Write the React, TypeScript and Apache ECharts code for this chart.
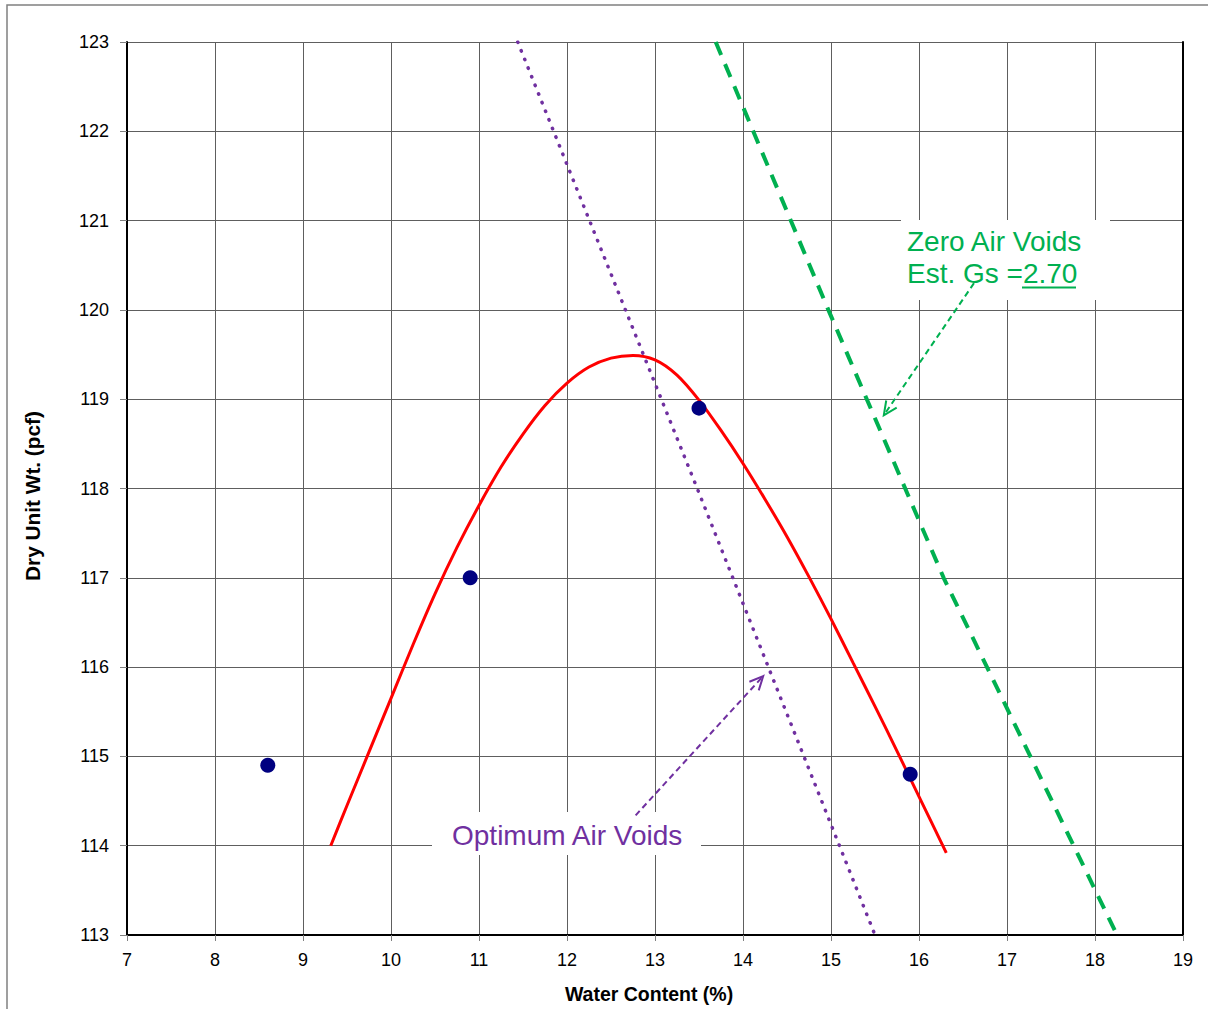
import React, { useEffect, useRef } from "react";
import * as echarts from "echarts";

// Test points (water content %, dry unit weight pcf)
const testWater = [8.6, 10.9, 13.5, 15.9];
const testDensity = [114.9, 117.0, 118.9, 114.8];

// Compaction curve
const curveWater = [9.315, 9.5, 9.75, 10.0, 10.25, 10.5, 10.75, 11.0, 11.25, 11.5, 11.75, 12.0, 12.25, 12.5, 12.75, 13.0, 13.25, 13.5, 13.75, 14.0, 14.25, 14.5, 14.75, 15.0, 15.25, 15.5, 15.75, 16.0, 16.31];
const curveDensity = [114.0, 114.45, 115.05, 115.65, 116.25, 116.82, 117.34, 117.81, 118.24, 118.61, 118.93, 119.18, 119.36, 119.46, 119.49, 119.44, 119.27, 118.99, 118.65, 118.28, 117.88, 117.46, 117.01, 116.54, 116.05, 115.56, 115.06, 114.55, 113.92];

// Zero air voids line (Gs = 2.70)
const zavWater = [13.69, 14.97, 16.28, 18.25];
const zavDensity = [123, 120, 117, 113];

// Optimum air voids line
const oavWater = [11.44, 13.48, 15.5];
const oavDensity = [123, 118, 113];

// Annotation arrows [fromX, fromY, toX, toY] in data units
const zavArrow = [16.625, 120.3, 15.6, 118.82];
const oavArrow = [12.78, 114.34, 14.23, 115.9];

const xTicks = { min: 7, max: 19, step: 1 };
const yTicks = { min: 113, max: 123, step: 1 };

const FONT = "'Liberation Sans', Arial, Helvetica, sans-serif";
const GREEN = "#00B050";
const PURPLE = "#7030A0";

function zip(a: number[], b: number[]) {
  return a.map((v, i) => [v, b[i]]);
}

function arrowSeries(arrow: number[], color: string) {
  return {
    type: "custom",
    silent: true,
    z: 5,
    encode: { x: [0, 2], y: [1, 3] },
    data: [arrow],
    renderItem: (_params: any, api: any) => {
      const p1 = api.coord([api.value(0), api.value(1)]);
      const p2 = api.coord([api.value(2), api.value(3)]);
      const ang = Math.atan2(p1[1] - p2[1], p1[0] - p2[0]);
      const len = 15;
      const half = (25 * Math.PI) / 180;
      const a = [p2[0] + len * Math.cos(ang + half), p2[1] + len * Math.sin(ang + half)];
      const b = [p2[0] + len * Math.cos(ang - half), p2[1] + len * Math.sin(ang - half)];
      return {
        type: "group",
        children: [
          {
            type: "line",
            shape: { x1: p1[0], y1: p1[1], x2: p2[0], y2: p2[1] },
            style: { stroke: color, lineWidth: 2, lineDash: [6, 4], fill: null },
          },
          {
            type: "polyline",
            shape: { points: [a, p2, b] },
            style: { stroke: color, lineWidth: 2, fill: null },
          },
        ],
      };
    },
  };
}

export default function App() {
  const ref = useRef<HTMLDivElement>(null);
  useEffect(() => {
    if (!ref.current) return;
    const chart = echarts.init(ref.current, null, { renderer: "svg" });
    const axisLabel = { color: "#000", fontSize: 18, fontFamily: FONT };
    chart.setOption({
      animation: false,
      backgroundColor: "#fff",
      grid: { left: 127, right: 25, top: 42, bottom: 72 },
      xAxis: {
        type: "value",
        min: xTicks.min,
        max: xTicks.max,
        interval: xTicks.step,
        name: "Water Content (%)",
        nameLocation: "middle",
        nameGap: 49,
        nameTextStyle: { color: "#000", fontSize: 19.5, fontWeight: "bold", fontFamily: FONT, padding: [0, 12, 0, 0] },
        axisLine: { show: true, onZero: false, lineStyle: { color: "#000", width: 2 } },
        axisTick: { show: true, length: 6, lineStyle: { color: "#808080" } },
        axisLabel: { ...axisLabel, margin: 16 },
        splitLine: { show: true, lineStyle: { color: "#5e5e5e", width: 1 } },
      },
      yAxis: [
        {
          type: "value",
          min: yTicks.min,
          max: yTicks.max,
          interval: yTicks.step,
          name: "Dry Unit Wt. (pcf)",
          nameLocation: "middle",
          nameGap: 84,
          nameTextStyle: { color: "#000", fontSize: 20.8, fontWeight: "bold", fontFamily: FONT, padding: [0, 15, 0, 0] },
          axisLine: { show: true, onZero: false, lineStyle: { color: "#000", width: 2 } },
          axisTick: { show: true, length: 7, lineStyle: { color: "#808080" } },
          axisLabel: { ...axisLabel, margin: 18 },
          splitLine: { show: true, lineStyle: { color: "#5e5e5e", width: 1 } },
        },
        {
          type: "value",
          position: "right",
          min: yTicks.min,
          max: yTicks.max,
          interval: yTicks.step,
          axisLine: { show: true, onZero: false, lineStyle: { color: "#000", width: 2 } },
          axisTick: { show: false },
          axisLabel: { show: false },
          splitLine: { show: false },
        },
      ],
      graphic: [
        {
          type: "rect",
          silent: true,
          z: 1,
          shape: { x: 7, y: 5, width: 1230, height: 1030 },
          style: { fill: "none", stroke: "#808080", lineWidth: 1.5 },
        },
        {
          type: "rect",
          silent: true,
          z: 1,
          shape: { x: 901, y: 220, width: 209, height: 80 },
          style: { fill: "#fff" },
        },
        {
          type: "rect",
          silent: true,
          z: 1,
          shape: { x: 432, y: 812, width: 269, height: 43 },
          style: { fill: "#fff" },
        },
        {
          type: "text",
          silent: true,
          z: 10,
          x: 907,
          y: 241,
          style: { text: "Zero Air Voids", fill: GREEN, font: `28px ${FONT}`, verticalAlign: "middle", align: "left" },
        },
        {
          type: "text",
          silent: true,
          z: 10,
          x: 907,
          y: 273,
          style: { text: "Est. Gs =2.70", fill: GREEN, font: `28px ${FONT}`, verticalAlign: "middle", align: "left" },
        },
        {
          type: "line",
          silent: true,
          z: 10,
          shape: { x1: 1022, y1: 287.5, x2: 1076, y2: 287.5 },
          style: { stroke: GREEN, lineWidth: 2 },
        },
        {
          type: "text",
          silent: true,
          z: 10,
          x: 452,
          y: 835,
          style: { text: "Optimum Air Voids", fill: PURPLE, font: `28px ${FONT}`, verticalAlign: "middle", align: "left" },
        },
      ],
      series: [
        {
          name: "Compaction curve",
          type: "line",
          data: zip(curveWater, curveDensity),
          smooth: 0.3,
          showSymbol: false,
          lineStyle: { color: "#FF0000", width: 3 },
          z: 3,
        },
        {
          name: "Optimum Air Voids",
          type: "line",
          data: zip(oavWater, oavDensity),
          showSymbol: false,
          lineStyle: { color: PURPLE, width: 3.5, type: [0.5, 8.8], cap: "round" },
          z: 3,
        },
        {
          name: "Zero Air Voids",
          type: "line",
          data: zip(zavWater, zavDensity),
          showSymbol: false,
          lineStyle: { color: GREEN, width: 4, type: [14, 10] },
          z: 3,
        },
        {
          name: "Tests",
          type: "scatter",
          data: zip(testWater, testDensity),
          symbol: "circle",
          symbolSize: 15,
          itemStyle: { color: "#000080", opacity: 1 },
          z: 4,
        },
        arrowSeries(zavArrow, GREEN),
        arrowSeries(oavArrow, PURPLE),
      ],
    });
    return () => chart.dispose();
  }, []);
  return (
    <div
      ref={ref}
      style={{ position: "absolute", left: 0, top: 0, width: 1208, height: 1009 }}
    />
  );
}
